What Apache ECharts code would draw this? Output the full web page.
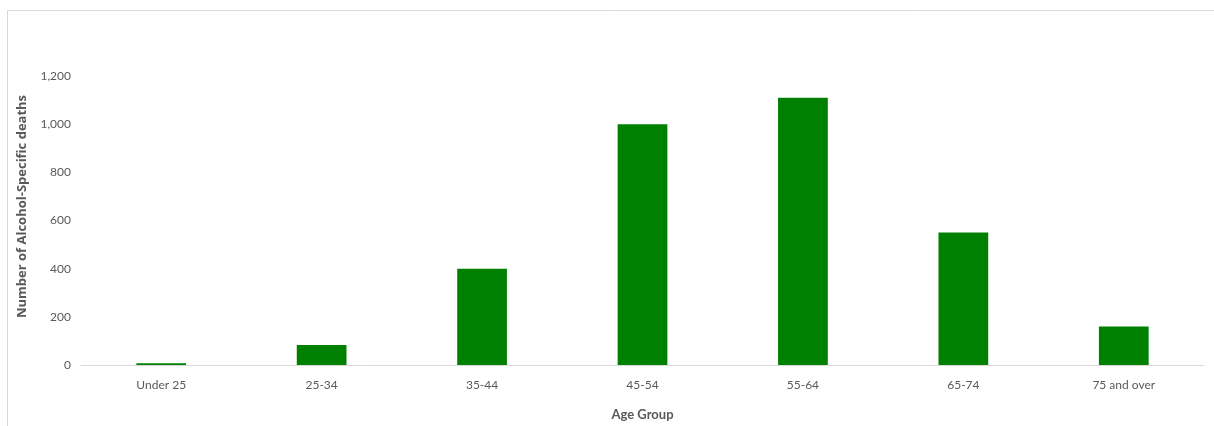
<!DOCTYPE html>
<html>
<head>
<meta charset="utf-8">
<script src="https://cdn.jsdelivr.net/npm/echarts@6/dist/echarts.min.js"></script>
<style>
html,body{margin:0;padding:0;background:#fff;}
#c{width:1214px;height:426px;}
</style>
</head>
<body>
<div id="c"></div>
<script>
var categories = ['Under 25', '25-34', '35-44', '45-54', '55-64', '65-74', '75 and over'];
var deaths = [7, 83, 400, 1000, 1110, 550, 160];
var yTicks = [0, 200, 400, 600, 800, 1000, 1200];

var chart = echarts.init(document.getElementById('c'));
var labelFont = "Lato, 'Open Sans', sans-serif";
chart.setOption({
  animation: false,
  backgroundColor: '#ffffff',
  graphic: [
    {type: 'line', shape: {x1: 7.5, y1: 10.5, x2: 1214, y2: 10.5}, style: {stroke: '#d9d9d9', lineWidth: 1}, silent: true},
    {type: 'line', shape: {x1: 7.5, y1: 10.5, x2: 7.5, y2: 426}, style: {stroke: '#d9d9d9', lineWidth: 1}, silent: true}
  ],
  grid: {left: 81, right: 10, top: 76, bottom: 61, containLabel: false},
  xAxis: {
    type: 'category',
    data: categories,
    name: 'Age Group',
    nameLocation: 'middle',
    nameGap: 43,
    nameTextStyle: {color: '#595959', fontSize: 13, fontWeight: 'bold', fontFamily: "Lato, 'Open Sans', sans-serif"},
    axisLine: {show: true, lineStyle: {color: '#d9d9d9', width: 1}},
    axisTick: {show: false},
    axisLabel: {color: '#595959', fontSize: 12, margin: 14, fontFamily: labelFont}
  },
  yAxis: {
    type: 'value',
    min: yTicks[0],
    max: yTicks[yTicks.length - 1],
    interval: 200,
    name: 'Number of Alcohol-Specific deaths',
    nameLocation: 'middle',
    nameGap: 52,
    nameTextStyle: {color: '#595959', fontSize: 13, fontWeight: 'bold', fontFamily: "'Open Sans', sans-serif", padding: [0, 0, 0, 28]},
    axisLine: {show: false},
    axisTick: {show: false},
    splitLine: {show: false},
    axisLabel: {
      color: '#595959', fontSize: 12, margin: 10, fontFamily: labelFont,
      formatter: function (v) { return v.toLocaleString('en-US'); }
    }
  },
  series: [{
    type: 'bar',
    data: deaths,
    barWidth: '31%',
    itemStyle: {color: '#008000'}
  }]
});
</script>
</body>
</html>
